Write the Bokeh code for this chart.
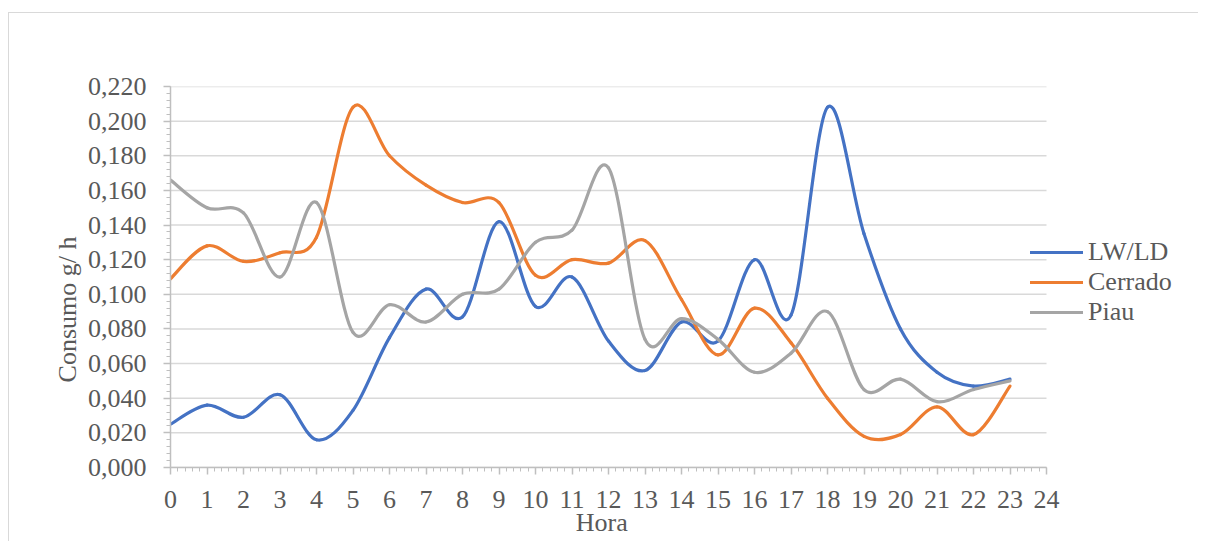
import numpy as np
from bokeh.plotting import figure
from bokeh.models import (Range1d, FixedTicker, CustomJSTickFormatter, Legend,
                          LegendItem, ColumnDataSource)
from bokeh.embed import file_html
from bokeh.resources import INLINE

hours = list(range(24))
lw_ld = [0.025, 0.036, 0.029, 0.042, 0.016, 0.033, 0.075, 0.103, 0.087, 0.142,
         0.093, 0.110, 0.073, 0.056, 0.084, 0.073, 0.120, 0.088, 0.208, 0.135,
         0.080, 0.055, 0.047, 0.051]
cerrado = [0.109, 0.128, 0.119, 0.124, 0.133, 0.208, 0.180, 0.163, 0.153, 0.153,
           0.111, 0.120, 0.118, 0.131, 0.097, 0.065, 0.092, 0.072, 0.040, 0.018,
           0.019, 0.035, 0.019, 0.047]
piau = [0.166, 0.150, 0.147, 0.110, 0.153, 0.078, 0.094, 0.084, 0.100, 0.103,
        0.130, 0.137, 0.173, 0.074, 0.086, 0.074, 0.055, 0.066, 0.090, 0.045,
        0.051, 0.038, 0.045, 0.050]
series_names = ["LW/LD", "Cerrado", "Piau"]
series_colors = ["#4472C4", "#ED7D31", "#A5A5A5"]
y_ticks = [round(i * 0.02, 3) for i in range(12)]
x_ticks = list(range(25))
X_MIN, X_MAX = 0, 24

FONT = "Liberation Serif"
TXT = "#595959"
AX = "#bfbfbf"
NBSP = "\u00a0"


def smooth_segments(xs, ys):
    x = np.asarray(xs, float)
    y = np.asarray(ys, float)
    n = len(x)
    xp = np.concatenate([[x[0]], x, [x[-1]]])
    yp = np.concatenate([[y[0]], y, [y[-1]]])
    i = np.arange(n - 1) + 1
    cx0 = xp[i] + (xp[i + 1] - xp[i - 1]) / 6
    cy0 = yp[i] + (yp[i + 1] - yp[i - 1]) / 6
    cx1 = xp[i + 1] - (xp[i + 2] - xp[i]) / 6
    cy1 = yp[i + 1] - (yp[i + 2] - yp[i]) / 6
    return dict(x0=xp[i], y0=yp[i], x1=xp[i + 1], y1=yp[i + 1],
                cx0=cx0, cy0=cy0, cx1=cx1, cy1=cy1)


# frame spans the legend area too; the axis itself is bounded to 0..24
LEFT, RIGHT_PAD = 161, 4
W, H = 1190, 529
axis_px = 876.0  # pixel length of 0..24 in the reference
frame_px = W - LEFT - RIGHT_PAD
x_end = X_MAX * frame_px / axis_px

p = figure(width=W, height=H, output_backend="svg", toolbar_location=None,
           x_range=Range1d(X_MIN, x_end), y_range=Range1d(0, 0.22),
           min_border_left=LEFT, min_border_right=RIGHT_PAD,
           min_border_top=73, min_border_bottom=75)
p.styles = {"border-top": "1px solid #d9d9d9", "border-left": "1px solid #d9d9d9",
            "margin-top": "12px", "margin-left": "8px"}
p.outline_line_color = None
p.background_fill_color = "white"

p.xgrid.grid_line_color = None
p.ygrid.grid_line_color = None
# horizontal gridlines limited to the 0..24 span
p.segment(x0=[X_MIN] * len(y_ticks), x1=[X_MAX] * len(y_ticks), y0=y_ticks, y1=y_ticks,
          line_color="#d9d9d9", line_width=1.5)

p.xaxis.ticker = FixedTicker(ticks=x_ticks,
                             minor_ticks=[t / 5 for t in range(0, 121)])
p.xaxis.bounds = (X_MIN, X_MAX)
p.yaxis.ticker = FixedTicker(ticks=y_ticks,
                             minor_ticks=[t * 0.004 for t in range(0, 56)])
p.yaxis.formatter = CustomJSTickFormatter(
    code="return tick.toFixed(3).replace('.', ',');")

for ax in (p.xaxis, p.yaxis):
    ax.axis_line_color = AX
    ax.axis_line_width = 1.5
    ax.major_tick_line_color = AX
    ax.minor_tick_line_color = AX
    ax.major_tick_line_width = 1.5
    ax.minor_tick_line_width = 1
    ax.major_tick_in = 0
    ax.major_tick_out = 7
    ax.minor_tick_in = 0
    ax.minor_tick_out = 4
    ax.major_label_text_font = FONT
    ax.major_label_text_font_size = "26px"
    ax.major_label_text_color = TXT
    ax.axis_label_text_font = FONT
    ax.axis_label_text_font_size = "26px"
    ax.axis_label_text_font_style = "normal"
    ax.axis_label_text_color = TXT

p.yaxis.major_label_standoff = 17
p.xaxis.major_label_standoff = 16
# trailing no-break spaces shift the centred titles to sit where the reference has them
p.xaxis.axis_label = "Hora" + NBSP * 25
p.xaxis.axis_label_standoff = -3
p.yaxis.axis_label = "Consumo g/ h" + NBSP * 10
p.yaxis.axis_label_standoff = 3

renderers = []
for name, ys, col in zip(series_names, [lw_ld, cerrado, piau], series_colors):
    src = ColumnDataSource(smooth_segments(hours, ys))
    r = p.bezier(x0="x0", y0="y0", x1="x1", y1="y1", cx0="cx0", cy0="cy0",
                 cx1="cx1", cy1="cy1", source=src, line_color=col,
                 line_width=3.2, line_cap="round")
    renderers.append(r)

legend = Legend(items=[LegendItem(label=n, renderers=[r])
                       for n, r in zip(series_names, renderers)],
                location=(860, 140), orientation="vertical")
legend.padding = 0
legend.margin = 0
legend.spacing = 0
legend.glyph_width = 53
legend.glyph_height = 28
legend.label_height = 28
legend.label_standoff = 5
legend.label_text_font = FONT
legend.label_text_font_size = "26px"
legend.label_text_color = TXT
legend.background_fill_alpha = 0
legend.border_line_alpha = 0
p.add_layout(legend)

open("out.html", "w").write(file_html(p, INLINE))
